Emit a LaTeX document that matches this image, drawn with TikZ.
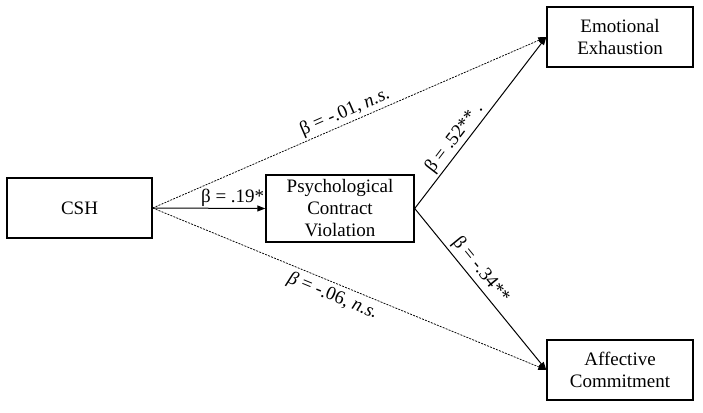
\documentclass[tikz,border=0pt]{standalone}
\usepackage{fontspec}
\setmainfont{Liberation Serif}
\usetikzlibrary{arrows.meta}
\begin{document}
\begin{tikzpicture}[x=1pt,y=-1pt,
  box/.style={draw,line width=1.4pt,align=center,inner sep=0pt,font=\fontsize{19}{22}\selectfont},
  arr/.style={-{Triangle[length=8pt,width=6pt]},line width=1pt},
  dsh/.style={-{Triangle[length=8pt,width=6pt]},line width=0.75pt,dash pattern=on 2pt off 1.2pt},
  lab/.style={font=\fontsize{19}{22}\selectfont,inner sep=2pt}]
\useasboundingbox (0,0) rectangle (703,412);
\node[box,minimum width=145pt,minimum height=60pt] (csh) at (79.5,208) {CSH};
\node[box,minimum width=148pt,minimum height=67pt] (pcv) at (340,208.5) {Psychological\\Contract\\Violation};
\node[box,minimum width=146pt,minimum height=60pt] (ee) at (620,37) {Emotional\\Exhaustion};
\node[box,minimum width=146pt,minimum height=60pt] (ac) at (620,370) {Affective\\Commitment};
\draw[arr] (csh.east) -- node[lab,above,pos=0.71,inner sep=1pt] (l1) {β = .19*} (pcv.west);
\draw[dsh] (csh.east) -- node[lab,above,sloped,pos=0.5] (l2) {β = -.01, \textit{n.s.}} (ee.west);
\draw[dsh] (csh.east) -- node[lab,below,sloped,pos=0.47,inner sep=4pt] (l3) {\textit{β} = -.06, \textit{n.s.}} (ac.west);
\draw[arr] (pcv.east) -- node[lab,above,sloped,pos=0.37] (l4) {β = .52** .} (ee.west);
\draw[arr] (pcv.east) -- node[lab,above,sloped,pos=0.43,inner sep=3pt] (l5) {β = -.34**} (ac.west);
\end{tikzpicture}
\end{document}
